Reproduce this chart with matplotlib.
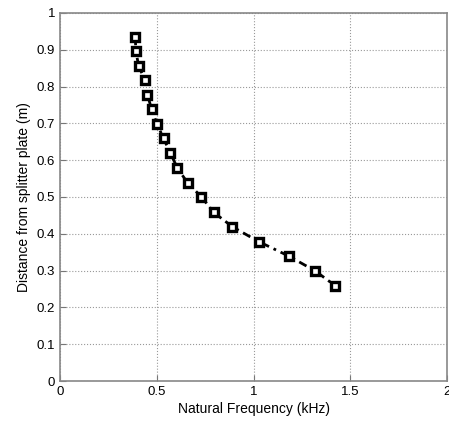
import numpy as np
from matplotlib import pyplot as plt

plt.rcParams['font.family'] = ['Liberation Sans', 'DejaVu Sans']

freq_khz = [0.389, 0.392, 0.406, 0.438, 0.452, 0.473, 0.502, 0.535, 0.571,
            0.607, 0.659, 0.731, 0.795, 0.891, 1.026, 1.184, 1.319, 1.422]
distance_m = [0.935, 0.897, 0.857, 0.818, 0.778, 0.739, 0.698, 0.659, 0.619,
              0.578, 0.539, 0.500, 0.458, 0.419, 0.379, 0.339, 0.299, 0.259]
x_ticks = [0, 0.5, 1, 1.5, 2]
y_ticks = [0, 0.1, 0.2, 0.3, 0.4, 0.5, 0.6, 0.7, 0.8, 0.9, 1]

fig = plt.figure(figsize=(4.49, 4.26), dpi=100)
ax = fig.add_axes([0.1336, 0.1056, 0.862, 0.864])

line, = ax.plot(freq_khz, distance_m, color='black', linewidth=2.0,
                marker='s', markersize=5.5, markerfacecolor='white',
                markeredgecolor='black', markeredgewidth=2.4)
line.set_dashes([3, 1.8, 1, 1.8])

ax.set_xlim(0, 2)
ax.set_ylim(0, 1)
ax.set_xticks(x_ticks)
ax.set_xticklabels([str(t) for t in x_ticks])
ax.set_yticks(y_ticks)
ax.set_yticklabels([('%g' % t) for t in y_ticks])
ax.grid(True, linestyle=':', color='#999999', linewidth=0.8)
ax.tick_params(direction='in', length=4, labelsize=9.5, color='#777777')
for s in ax.spines.values():
    s.set_color('#888888')
    s.set_linewidth(1.2)

ax.set_xlabel('Natural Frequency (kHz)', fontsize=10, labelpad=3)
ax.set_ylabel('Distance from splitter plate (m)', fontsize=10, labelpad=4)

fig.savefig('out.png', dpi=100)
